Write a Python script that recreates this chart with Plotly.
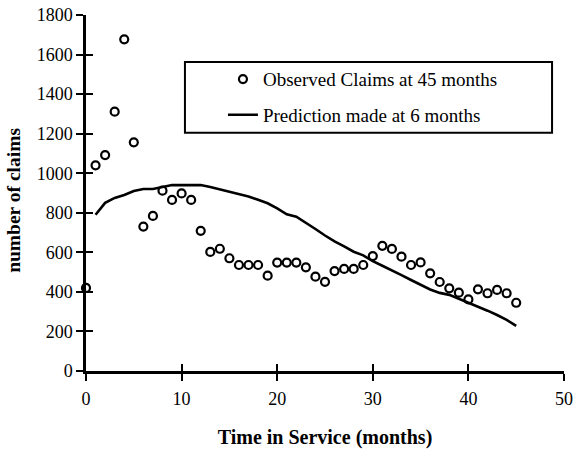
import plotly.graph_objects as go

obs_months = list(range(0, 46))
obs_claims = [420, 1040, 1092, 1311, 1677, 1156, 730, 784, 912, 865,
              898, 865, 709, 602, 618, 570, 536, 536, 536, 482,
              548, 548, 548, 524, 477, 451, 505, 516, 516, 536,
              581, 633, 617, 578, 536, 549, 494, 450, 418, 396,
              362, 413, 393, 410, 393, 345]

pred_months = list(range(1, 46))
pred_claims = [790, 850, 875, 890, 910, 920, 920, 930, 940, 940,
               940, 940, 930, 918, 906, 895, 882, 866, 848, 822,
               792, 780, 750, 718, 685, 655, 630, 603, 585, 555,
               532, 510, 485, 460, 435, 412, 395, 385, 365, 345,
               328, 305, 283, 258, 228]

x_ticks = [0, 10, 20, 30, 40, 50]
y_ticks = [0, 200, 400, 600, 800, 1000, 1200, 1400, 1600, 1800]

FONT = "Liberation Serif"

fig = go.Figure()
fig.add_trace(go.Scatter(
    x=obs_months, y=obs_claims, mode="markers",
    name="Observed Claims at 45 months", legendgroup="obs",
    marker=dict(symbol="circle-open", size=8, color="black", line=dict(width=2.2, color="black")),
    cliponaxis=False,
))
fig.add_trace(go.Scatter(
    x=pred_months, y=pred_claims, mode="lines",
    name="Prediction made at 6 months", legendgroup="pred",
    line=dict(color="black", width=2.6),
))
# invisible trace anchoring the overlay axes (for ticks crossing the axis lines)
fig.add_trace(go.Scatter(x=[0], y=[0], xaxis="x2", yaxis="y2", mode="markers",
                         marker=dict(opacity=0), showlegend=False, hoverinfo="skip"))

axis_common = dict(showgrid=False, zeroline=False, showline=True, linecolor="black", linewidth=2.5,
                   tickcolor="black", tickwidth=2, ticklen=7, automargin=False,
                   ticklabeloverflow="allow",
                   tickfont=dict(family=FONT, size=18, color="black"))

fig.update_layout(
    width=574, height=450,
    margin=dict(l=86, r=10, t=15, b=79),
    paper_bgcolor="white", plot_bgcolor="white",
    font=dict(family=FONT, color="black"),
    xaxis=dict(range=[0, 50], tickvals=x_ticks, ticks="outside", ticklabelstandoff=3,
               title=dict(text="<b>Time in Service (months)</b>", font=dict(family=FONT, size=20), standoff=22),
               **axis_common),
    yaxis=dict(range=[0, 1800], tickvals=y_ticks, ticks="outside", ticklabelstandoff=0,
               **axis_common),
    xaxis2=dict(range=[0, 50], tickvals=x_ticks, ticks="inside", overlaying="x", anchor="y2",
                showticklabels=False, **axis_common),
    yaxis2=dict(range=[0, 1800], tickvals=y_ticks, ticks="inside", overlaying="y", anchor="x2",
                showticklabels=False, **axis_common),
    legend=dict(x=0.207, y=0.873, xanchor="left", yanchor="top",
                borderwidth=0, bgcolor="rgba(0,0,0,0)", indentation=38,
                font=dict(family=FONT, size=19, color="black"),
                tracegroupgap=8),
    showlegend=True,
    shapes=[dict(type="rect", xref="paper", yref="paper",
                 x0=0.207, x1=0.975, y0=0.669, y1=0.868,
                 line=dict(color="black", width=2), fillcolor="rgba(0,0,0,0)")],
    annotations=[dict(text="<b>number of claims</b>", textangle=-90, xref="paper", yref="paper",
                      x=0, y=0.478, xshift=-72, xanchor="center", yanchor="middle", showarrow=False,
                      font=dict(family=FONT, size=19.5, color="black"))],
)

fig.write_html("out.html", config={"displayModeBar": False},
               post_script="document.body.style.margin='0';")
